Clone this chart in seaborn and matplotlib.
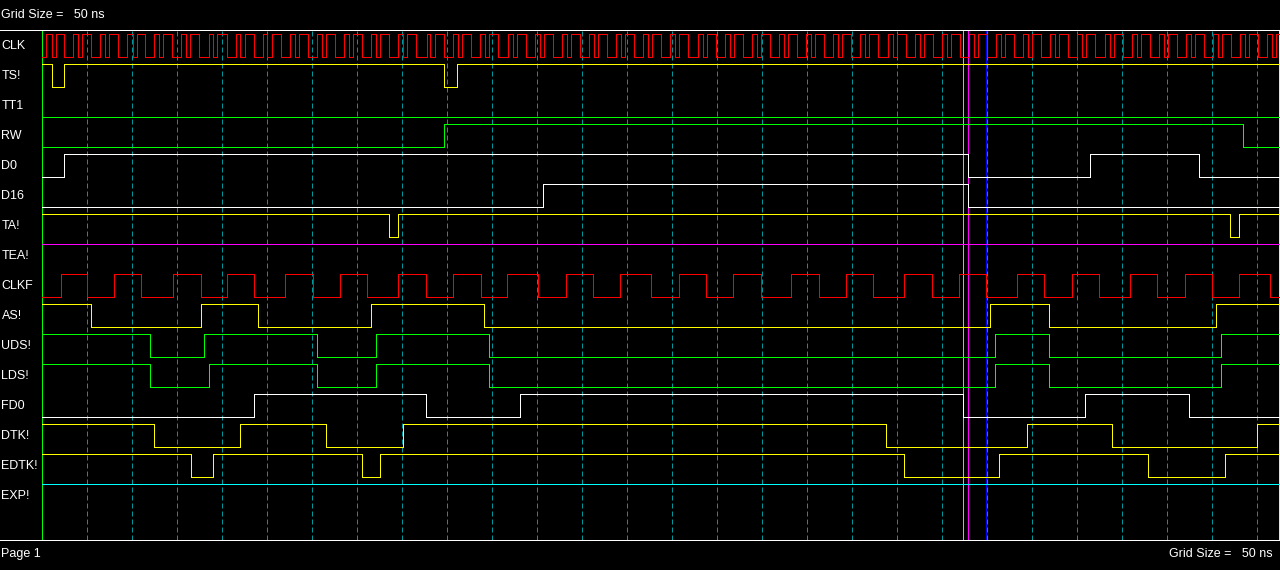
import numpy as np
import pandas as pd
import matplotlib
matplotlib.use("Agg")
import matplotlib.pyplot as plt
import matplotlib.transforms as mtransforms
import seaborn as sns

# time in ns, 0 = green cursor on the left, 45 px per 50 ns grid step
END_NS = 1374.0
GRID_NS = 50
NS_PER_PX = 50 / 45.0
LEFT_PX = 42.33

NAMES = ["CLK", "TS!", "TT1", "RW", "D0", "D16", "TA!", "TEA!", "CLKF",
         "AS!", "UDS!", "LDS!", "FD0", "DTK!", "EDTK!", "EXP!"]
COLORS = ["#ff0000", "#ffff00", "#00ff00", "#00ff00", "#ffffff", "#ffffff",
          "#ffff00", "#ff00ff", "#ff0000", "#ffff00", "#00ff00", "#00ff00",
          "#ffffff", "#ffff00", "#ffff00", "#00ffff"]
START_LEVEL = [0, 1, 0, 0, 0, 0, 1, 1, 0, 1, 1, 1, 0, 1, 1, 1]

CLK_EDGES = [4.1, 10.4, 14.8, 24.4, 34.4, 40.0, 44.4, 54.1, 64.1, 70.0, 74.4, 84.1,
             94.4, 100.4, 104.8, 114.4, 124.4, 130.0, 134.4, 144.4, 154.4, 160.0, 164.4, 174.4,
             185.6, 190.0, 194.4, 204.8, 215.6, 219.6, 225.6, 235.6, 245.6, 250.0, 255.6, 265.6,
             275.6, 281.1, 285.6, 295.6, 305.6, 311.1, 315.6, 325.6, 335.6, 341.1, 345.6, 355.6,
             365.6, 371.1, 375.6, 385.6, 395.6, 401.1, 405.6, 415.6, 427.0, 431.1, 436.7, 446.7,
             456.7, 462.3, 466.7, 476.7, 486.8, 492.4, 496.8, 506.8, 517.0, 522.6, 527.0, 537.0,
             547.1, 552.7, 557.1, 567.1, 577.3, 582.9, 587.3, 597.3, 607.4, 613.0, 617.4, 627.4,
             637.6, 643.2, 647.6, 657.6, 667.7, 673.3, 677.7, 687.7, 697.9, 703.5, 707.9, 717.9,
             728.0, 733.6, 738.0, 748.0, 758.2, 763.8, 768.2, 778.2, 788.3, 793.9, 798.3, 808.3,
             818.5, 824.1, 828.5, 838.5, 848.6, 854.2, 858.6, 868.6, 878.8, 884.4, 888.8, 898.8,
             908.9, 914.5, 918.9, 928.9, 939.1, 944.7, 949.1, 959.1, 969.2, 974.8, 979.2, 989.2,
             999.4, 1005.0, 1009.4, 1019.4, 1029.5, 1035.1, 1039.5, 1049.5, 1059.7, 1065.3, 1069.7, 1079.7,
             1089.8, 1095.4, 1099.8, 1109.8, 1120.0, 1125.6, 1130.0, 1140.0, 1150.1, 1155.7, 1160.1, 1170.1,
             1180.3, 1185.9, 1190.3, 1200.3, 1210.4, 1216.0, 1220.4, 1230.4, 1240.6, 1246.2, 1250.6, 1260.6,
             1270.7, 1276.3, 1280.7, 1290.7, 1300.9, 1306.5, 1310.9, 1320.9, 1331.0, 1336.6, 1341.0, 1351.0,
             1361.2, 1366.8, 1371.2]
TS_EDGES = [10.4, 24.4, 446.7, 461.0]
TT1_EDGES = []
RW_EDGES = [446.7, 1334.4]
D0_EDGES = [24.4, 1028.6, 1164.4, 1284.8]
D16_EDGES = [556.7, 1028.6]
TA_EDGES = [385.5, 395.5, 1320.0, 1330.0]
TEA_EDGES = []
CLKF_EDGES = [20.4, 50.0, 80.0, 110.0, 145.5, 175.9, 205.5, 235.5, 270.0, 301.1, 331.1,
              361.1, 395.5, 426.6, 456.6, 487.0, 516.7, 551.1, 582.2, 612.2, 642.2, 676.6,
              707.8, 737.8, 767.8, 798.1, 832.2, 863.3, 893.3, 923.3, 957.8, 988.9, 1018.9,
              1048.5, 1083.3, 1113.3, 1144.4, 1174.4, 1208.9, 1238.9, 1270.0, 1300.0, 1330.0, 1364.4]
AS_EDGES = [54.4, 175.9, 240.0, 365.6, 491.1, 1053.3, 1118.9, 1304.4]
UDS_EDGES = [120.0, 180.0, 305.6, 371.1, 496.7, 1058.9, 1118.9, 1310.0]
LDS_EDGES = [120.0, 185.6, 305.6, 371.1, 496.7, 1058.9, 1118.9, 1310.0]
FD0_EDGES = [235.5, 426.6, 531.1, 1023.0, 1158.9, 1274.4]
DTK_EDGES = [124.4, 220.0, 315.6, 401.1, 937.8, 1093.7, 1188.9, 1350.0]
EDTK_EDGES = [165.6, 190.0, 355.6, 375.6, 957.8, 1063.3, 1228.9, 1314.4]
EXP_EDGES = []

ALL_EDGES = [CLK_EDGES, TS_EDGES, TT1_EDGES, RW_EDGES, D0_EDGES, D16_EDGES, TA_EDGES,
             TEA_EDGES, CLKF_EDGES, AS_EDGES, UDS_EDGES, LDS_EDGES, FD0_EDGES, DTK_EDGES,
             EDTK_EDGES, EXP_EDGES]

# cursors: start, two markers, blue cursor, end
CURSOR_NS = [0.0, 1023.0, 1028.6, 1048.7, END_NS]
CURSOR_COLORS = ["#00ff00", "#00ffff", "#ff00ff", "#0000ff", "#ffff00"]

GRID_COLOR = "#00969b"
TOP_PX = 34.3   # high level of first row, pixels from top
ROW_PX = 30
SWING_PX = 23
PX = 0.72       # one pixel in points at 100 dpi


def build_frame():
    parts = []
    for i, (name, edges, lvl0) in enumerate(zip(NAMES, ALL_EDGES, START_LEVEL)):
        t = [0.0] + list(edges) + [END_NS]
        lv = [(lvl0 + k) % 2 for k in range(len(edges) + 1)]
        lv.append(lv[-1])
        y = TOP_PX + ROW_PX * i + SWING_PX * (1 - np.array(lv))
        parts.append(pd.DataFrame({"t": t, "y": y, "signal": name}))
    return pd.concat(parts, ignore_index=True)


def main():
    sns.set_theme(style="dark")
    plt.rcParams["font.family"] = ["Liberation Sans", "DejaVu Sans"]

    fig = plt.figure(figsize=(12.8, 5.7), dpi=100, facecolor="black")
    ax = fig.add_axes([0, 30 / 570, 1, 510 / 570])
    ax.set_facecolor("black")

    df = build_frame()
    sns.lineplot(data=df, x="t", y="y", hue="signal", hue_order=NAMES,
                 palette=dict(zip(NAMES, COLORS)), estimator=None, sort=False,
                 drawstyle="steps-post", legend=False, lw=PX, antialiased=False, ax=ax)

    for t, c in zip(CURSOR_NS, CURSOR_COLORS):
        ax.axvline(t, color=c, lw=PX, antialiased=False, zorder=1)

    ax.set_xlim(-LEFT_PX * NS_PER_PX, (1280 - LEFT_PX) * NS_PER_PX)
    ax.set_ylim(540, 30)
    ax.set_xticks(np.arange(GRID_NS, END_NS, GRID_NS))
    ax.set_yticks([])
    ax.grid(axis="x", color=GRID_COLOR, linestyle=(0, (5, 3)), lw=PX)
    ax.grid(axis="y", visible=False)
    ax.set_axisbelow(True)
    ax.tick_params(length=0, labelbottom=False, labelleft=False)
    ax.set_xlabel("")
    ax.set_ylabel("")
    for side in ["left", "right"]:
        ax.spines[side].set_visible(False)
    for side in ["top", "bottom"]:
        ax.spines[side].set_visible(True)
        ax.spines[side].set_color("white")
        ax.spines[side].set_linewidth(PX)

    trans = mtransforms.blended_transform_factory(ax.transAxes, ax.transData)
    for i, name in enumerate(NAMES):
        ax.text(1.5 / 1280, TOP_PX + ROW_PX * i + SWING_PX / 2, name, transform=trans,
                color="white", fontsize=9, va="center", ha="left")

    fig.text(1 / 1280, 1 - 15 / 570, "Grid Size =   50 ns", color="white", fontsize=9,
             va="center", ha="left")
    fig.text(1 / 1280, 1 - 554 / 570, "Page 1", color="white", fontsize=9,
             va="center", ha="left")
    fig.text(1273 / 1280, 1 - 554 / 570, "Grid Size =   50 ns", color="white", fontsize=9,
             va="center", ha="right")

    fig.savefig("out.png", dpi=100, facecolor="black")


if __name__ == "__main__":
    main()
